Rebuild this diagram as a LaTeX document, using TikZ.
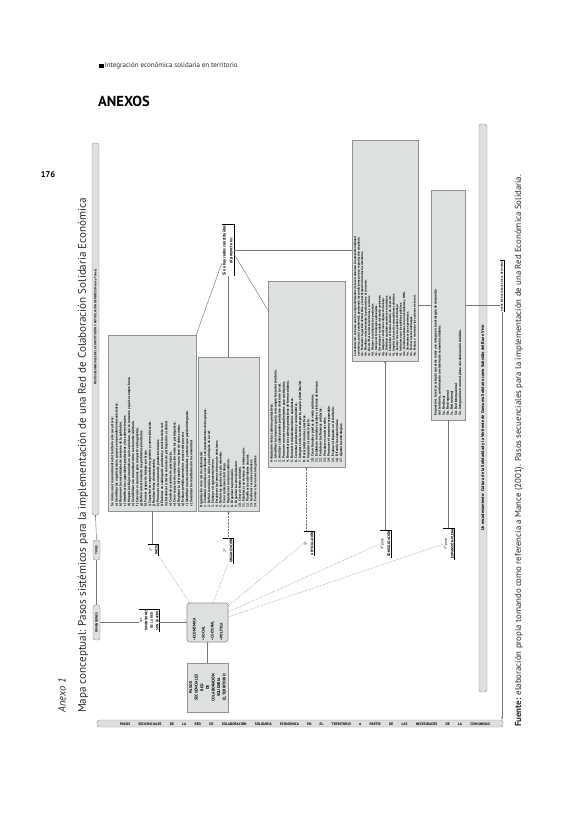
\documentclass[tikz,border=0pt]{standalone}
\usepackage{fontspec}
\setmainfont{PT Sans}
\usepackage{graphicx}
\usetikzlibrary{arrows.meta,calc}
\definecolor{boxfill}{HTML}{DCE0DF}
\definecolor{boxdraw}{HTML}{8E9291}
\definecolor{lin}{HTML}{777777}
\definecolor{txt}{HTML}{2A2A2A}
\newcommand{\rbox}[2]{\rotatebox{90}{\parbox{#1}{#2}}}
\newcommand{\rstack}[1]{\rotatebox{90}{\shortstack{#1}}}
\newcommand{\brk}[1]{\draw[line width=0.7pt] (#1.north west) -- (#1.north east) -- (#1.south east);}
\tikzset{
  tbox/.style={draw=boxdraw, fill=boxfill, line width=0.55pt, inner sep=0pt, text=black},
  rbar/.style={draw=boxdraw, fill=boxfill, rounded corners=2.5pt, inner sep=0pt, line width=0.4pt},
  lab/.style={inner sep=0.8pt, text=black, font=\fontsize{3.6}{4.4}\selectfont\bfseries},
  conn/.style={draw=lin, line width=0.45pt},
  dots/.style={conn, densely dotted},
  dotstart/.style={{Circle[length=1.8pt]}-},
  dotend/.style={-{Circle[length=1.8pt]}},
}
\begin{document}
\begin{tikzpicture}[x=1pt,y=-1pt]
\useasboundingbox (0,0) rectangle (583,820);
\fill[white] (0,0) rectangle (583,820);

% page header
\node[fill=black, inner sep=0pt, minimum size=4.8pt] (sq) at (101.5,66) {};
\node[anchor=west, inner sep=0.5pt, text=txt, font=\fontsize{7}{8}\selectfont] (hdr) at (sq.east) {Integración económica solidaria en territorio};
\node[anchor=west, inner sep=0pt, font=\fontsize{14.5}{16}\selectfont\bfseries] (anexos) at (98,101) {ANEXOS};
\node[inner sep=0pt, font=\fontsize{8.5}{10}\selectfont\bfseries] (pg) at (48,175) {176};

% titles (rotated)
\node[rotate=90, anchor=west, inner sep=0pt, text=txt, font=\fontsize{10.5}{12}\selectfont\itshape] (anx) at (62,713) {Anexo 1};
\node[rotate=90, anchor=west, inner sep=0pt, text=txt, font=\fontsize{11.1}{13}\selectfont] (mapa) at (83,713) {Mapa conceptual: Pasos sistémicos para la implementación de una Red de Colaboración Solidaria Económica};
\node[rotate=90, anchor=west, inner sep=0pt, text=txt, font=\fontsize{8.8}{11}\selectfont] (fuente) at (519,727) {\textbf{Fuente:} elaboración propia tomando como referencia a Mance (2001). Pasos secuenciales para la implementación de una Red Económica Solidaria.};

% bars
\node[rbar, minimum width=7pt, minimum height=372pt] (LB) at (95.5,329) {};
\node[rotate=90, inner sep=0pt, text=black, font=\fontsize{3}{3.5}\selectfont\bfseries] (LBt) at (95.5,327) {PASOS SECUENCIALES DE LA CONSTITUCIÓN Y ARTICULACIÓN DE REDES (Mance y Torres)};
\node[rbar, minimum width=8pt, minimum height=568pt] (RB) at (483,408) {};
\node[rotate=90, inner sep=0pt, text=black, font=\fontsize{4.3}{5}\selectfont\bfseries] (RBt) at (483,428) {Un encadenamiento: Cultura de la Solidaridad y la Vertiente de Consumo Solidario como Subsidio del Buen Vivir};
\node[rbar, minimum width=406pt, minimum height=7pt] (BB) at (300,723.5) {};
\node[inner sep=0pt, text=black, font=\fontsize{3.6}{4}\selectfont\bfseries] (BBt) at (305,723.5) {\makebox[370pt][s]{PASOS SECUENCIALES DE LA RED DE COLABORACIÓN SOLIDARIA ECONÓMICA EN EL TERRITORIO A PARTIR DE LAS NECESIDADES DE LA COMUNIDAD}};

% step boxes
\node[tbox, minimum width=88pt, minimum height=176pt] (A) at (152,423) {\rbox{166pt}{\fontsize{3.4}{4.15}\selectfont\bfseries\raggedright
Se inicia con el reconocimiento del territorio y de sus actores:\\
a) Identificar las organizaciones, grupos y emprendimientos existentes.\\
b) Reconocer las necesidades de consumo de la población.\\
c) Identificar las capacidades productivas y los saberes locales.\\
d) Mapear los flujos económicos: qué se produce, qué se consume y qué se compra fuera.\\
e) Sensibilizar a la comunidad sobre la economía solidaria.\\
f) Convocar a reuniones para compartir el diagnóstico.\\
g) Definir colectivamente los problemas prioritarios.\\
h) Formar grupos de trabajo por áreas.\\
i) Capacitar en cooperativismo, gestión y comercialización.\\
j) Realizar ferias de intercambio.\\
k) Promover el consumo de productos locales.\\
l) Elaborar un catálogo de productos y servicios de la red.\\
m) Establecer criterios comunes de participación y calidad.\\
n) Construir acuerdos de precio justo.\\
o) Crear espacios de comunicación entre los participantes.\\
p) Registrar la información en una base de datos común.\\
q) Evaluar periódicamente los avances del proceso.\\
r) Identificar nuevas necesidades y actores que pueden integrarse.\\
s) Socializar los resultados con la comunidad.}};

\node[tbox, minimum width=61pt, minimum height=154pt] (B) at (228.5,434) {\rbox{146pt}{\fontsize{3.3}{3.85}\selectfont\bfseries\raggedright
Organización de la red de colaboración:\\
1. Constituir un núcleo coordinador con representantes de los grupos.\\
2. Definir la misión, la visión y los principios de la red.\\
3. Elaborar el reglamento interno.\\
4. Establecer las formas de toma de decisiones.\\
5. Definir los aportes de cada miembro.\\
6. Crear comisiones de trabajo.\\
7. Organizar el consumo solidario.\\
8. Organizar la producción.\\
9. Organizar la comercialización.\\
10. Crear un fondo solidario.\\
11. Establecer un sistema de información.\\
12. Planificar las actividades anuales.\\
13. Gestionar recursos y alianzas.\\
14. Formar a los nuevos integrantes.}};

\node[tbox, minimum width=77pt, minimum height=186pt] (C) at (306.5,374) {\rbox{176pt}{\fontsize{3.4}{4.1}\selectfont\bfseries\raggedright
Articulación de las cadenas productivas:\\
1. Identificar los insumos que la red compra fuera del territorio.\\
2. Analizar cuáles pueden producirse dentro de la red.\\
3. Promover nuevos emprendimientos para sustituirlos.\\
4. Remontar las cadenas productivas de forma solidaria.\\
5. Reinvertir colectivamente los excedentes.\\
6. Conectar productores y consumidores.\\
7. Integrar servicios de transporte, acopio y distribución.\\
8. Desarrollar marcas colectivas.\\
9. Impulsar el comercio justo.\\
10. Crear tiendas y puntos de venta solidarios.\\
11. Establecer monedas sociales o sistemas de trueque.\\
12. Fortalecer las finanzas solidarias.\\
13. Vincularse con otras redes.\\
14. Promover el consumo responsable.\\
15. Evaluar el impacto en el territorio.\\
16. Difundir las experiencias.\\
17. Ajustar las estrategias.}};

\node[tbox, minimum width=66pt, minimum height=221pt] (D) at (385,250.5) {\rbox{211pt}{\fontsize{3.1}{3.5}\selectfont\bfseries\raggedright
Consolidación: se busca que los emprendimientos de la red alcancen la autosostenibilidad\\
económica, social y ambiental, generando las condiciones para su reproducción ampliada.\\
4a. Fortalecer la gestión democrática y la participación de todos los miembros.\\
4b. Planificar colectivamente la producción y el consumo.\\
4c. Diversificar la oferta de bienes y servicios.\\
4d. Mejorar la calidad de los productos.\\
4e. Incorporar tecnologías apropiadas.\\
4f. Garantizar el cuidado del medio ambiente.\\
4g. Asegurar condiciones dignas de trabajo.\\
4h. Distribuir equitativamente los resultados.\\
4i. Consolidar el fondo solidario de inversión.\\
4j. Ampliar la base de consumidores solidarios.\\
4k. Generar nuevos puestos de trabajo.\\
4l. Articularse con las políticas públicas.\\
4m. Construir alianzas con universidades y ONG.\\
4n. Sistematizar las experiencias.\\
4o. Formar nuevos liderazgos.\\
4p. Evaluar y reorientar las acciones de la red.}};

\node[tbox, minimum width=34pt, minimum height=230pt] (E) at (448,305) {\rbox{220pt}{\fontsize{3.4}{4.1}\selectfont\bfseries\raggedright
Expansión: la red se articula con otras redes y se integra en la estrategia de desarrollo\\
del territorio, conformando un sistema de economía solidaria:\\
5a. Red local\\
5b. Red regional\\
5c. Red nacional\\
5d. Red internacional\\
5e. Integración en una red plena de colaboración solidaria.}};

% labels with bracket
\node[lab, font=\fontsize{4.2}{5}\selectfont\bfseries] (S) at (228,250.5) {\rstack{Si no hay redes constituidas\\el proyecto es:}};
\node[lab] (L1) at (153.5,550) {\rstack{\textnormal{1º}\\INICIO}};
\node[lab] (L2) at (228,551) {\rstack{\textnormal{2º}\\ORGANIZACIÓN}};
\node[lab] (L3) at (309,543.5) {\rstack{\textnormal{3º}\\ARTICULACIÓN}};
\node[lab] (L4) at (385.5,544) {\rstack{\textnormal{4º paso}\\CONSOLIDACIÓN}};
\node[lab] (L5) at (449,544) {\rstack{\textnormal{5º paso}\\EXPANSIÓN PLENA}};
\node[lab, font=\fontsize{3.4}{4}\selectfont\bfseries] (LD) at (149,620.5) {\rstack{\textnormal{Las}\\DIMENSIONES\\DE LA RED\\SON CUATRO}};
\node[lab, font=\fontsize{2.7}{3.2}\selectfont\bfseries] (PE) at (502,286.5) {\rotatebox{90}{PASOS ESTRUCTURALES DE LA RED PLENA}};
\brk{S}\brk{L1}\brk{L2}\brk{L3}\brk{L4}\brk{L5}\brk{LD}\brk{PE}

% left column small boxes
\node[rbar, minimum width=7pt, minimum height=20pt] (T) at (96.5,550) {\rotatebox{90}{\fontsize{3.2}{4}\selectfont\bfseries TIPOS}};
\node[rbar, minimum width=7pt, minimum height=35pt] (DM) at (96.5,622.5) {\rotatebox{90}{\fontsize{3.2}{4}\selectfont\bfseries DIMENSIONES}};

% central box and origin box
\node[tbox, rounded corners=2.5pt, minimum width=41pt, minimum height=39pt] (M) at (207.5,622.5) {\rbox{36pt}{\fontsize{3.8}{9}\selectfont\bfseries •\,ECONÓMICA\\ •\,SOCIAL\\ •\,CULTURAL\\ •\,POLÍTICA}};
\node[tbox, minimum width=41pt, minimum height=49pt] (P) at (207.5,687.5) {\rbox{46pt}{\centering\fontsize{4}{5.6}\selectfont\bfseries PASOS\\SECUENCIALES\\RED\\DE\\COLABORACIÓN\\SOLIDARIA\\EL TERRITORIO}};

% connectors
\draw[conn, dotstart] (LB.south) -- (T.north);
\draw[conn, dotend] (T.south) -- (DM.north);
\draw[conn] (DM.east) -- (DM.east -| LD.west);
\draw[conn] (LD.east |- M.west) -- (M.west);
\draw[conn, dotend] (P.north) -- (M.south);

\draw[dots] (M.132) -- (L1.south east);
\draw[dots] (M.74) -- (L2.south);
\draw[dots] (M.39) -- (L3.west);
\draw[dots] (M.27) -- (L4.west);
\draw[dots] (M.15) -- (L5.west);

\draw[conn] (A.south) -- (A.south |- L1.north);
\draw[dots, dotstart] (B.south) -- (B.south |- L2.north);
\draw[dots, dotstart] (C.south) -- (C.south |- L3.north);
\draw[conn, dotstart] (D.south) -- (D.south |- L4.north);
\draw[conn] (E.south) -- (E.south |- L5.north);

\draw[conn] ($(S.south west)+(0,-13)$) -- (A.north east);
\draw[conn] (S.south) -- (S.south |- B.north);
\draw[conn] ($(S.east)+(0,4)$) -- ($(C.north west)+(0,29)$);
\draw[conn] (S.east) -- (S.east -| D.west);
\draw[conn] (E.west) -- (E.west -| D.east);
\draw[conn] (E.east) -- (E.east -| PE.west);
\draw[conn, -{Stealth[length=2.5pt]}] (PE.south) -- (PE.south |- BB.north);
\end{tikzpicture}
\end{document}
